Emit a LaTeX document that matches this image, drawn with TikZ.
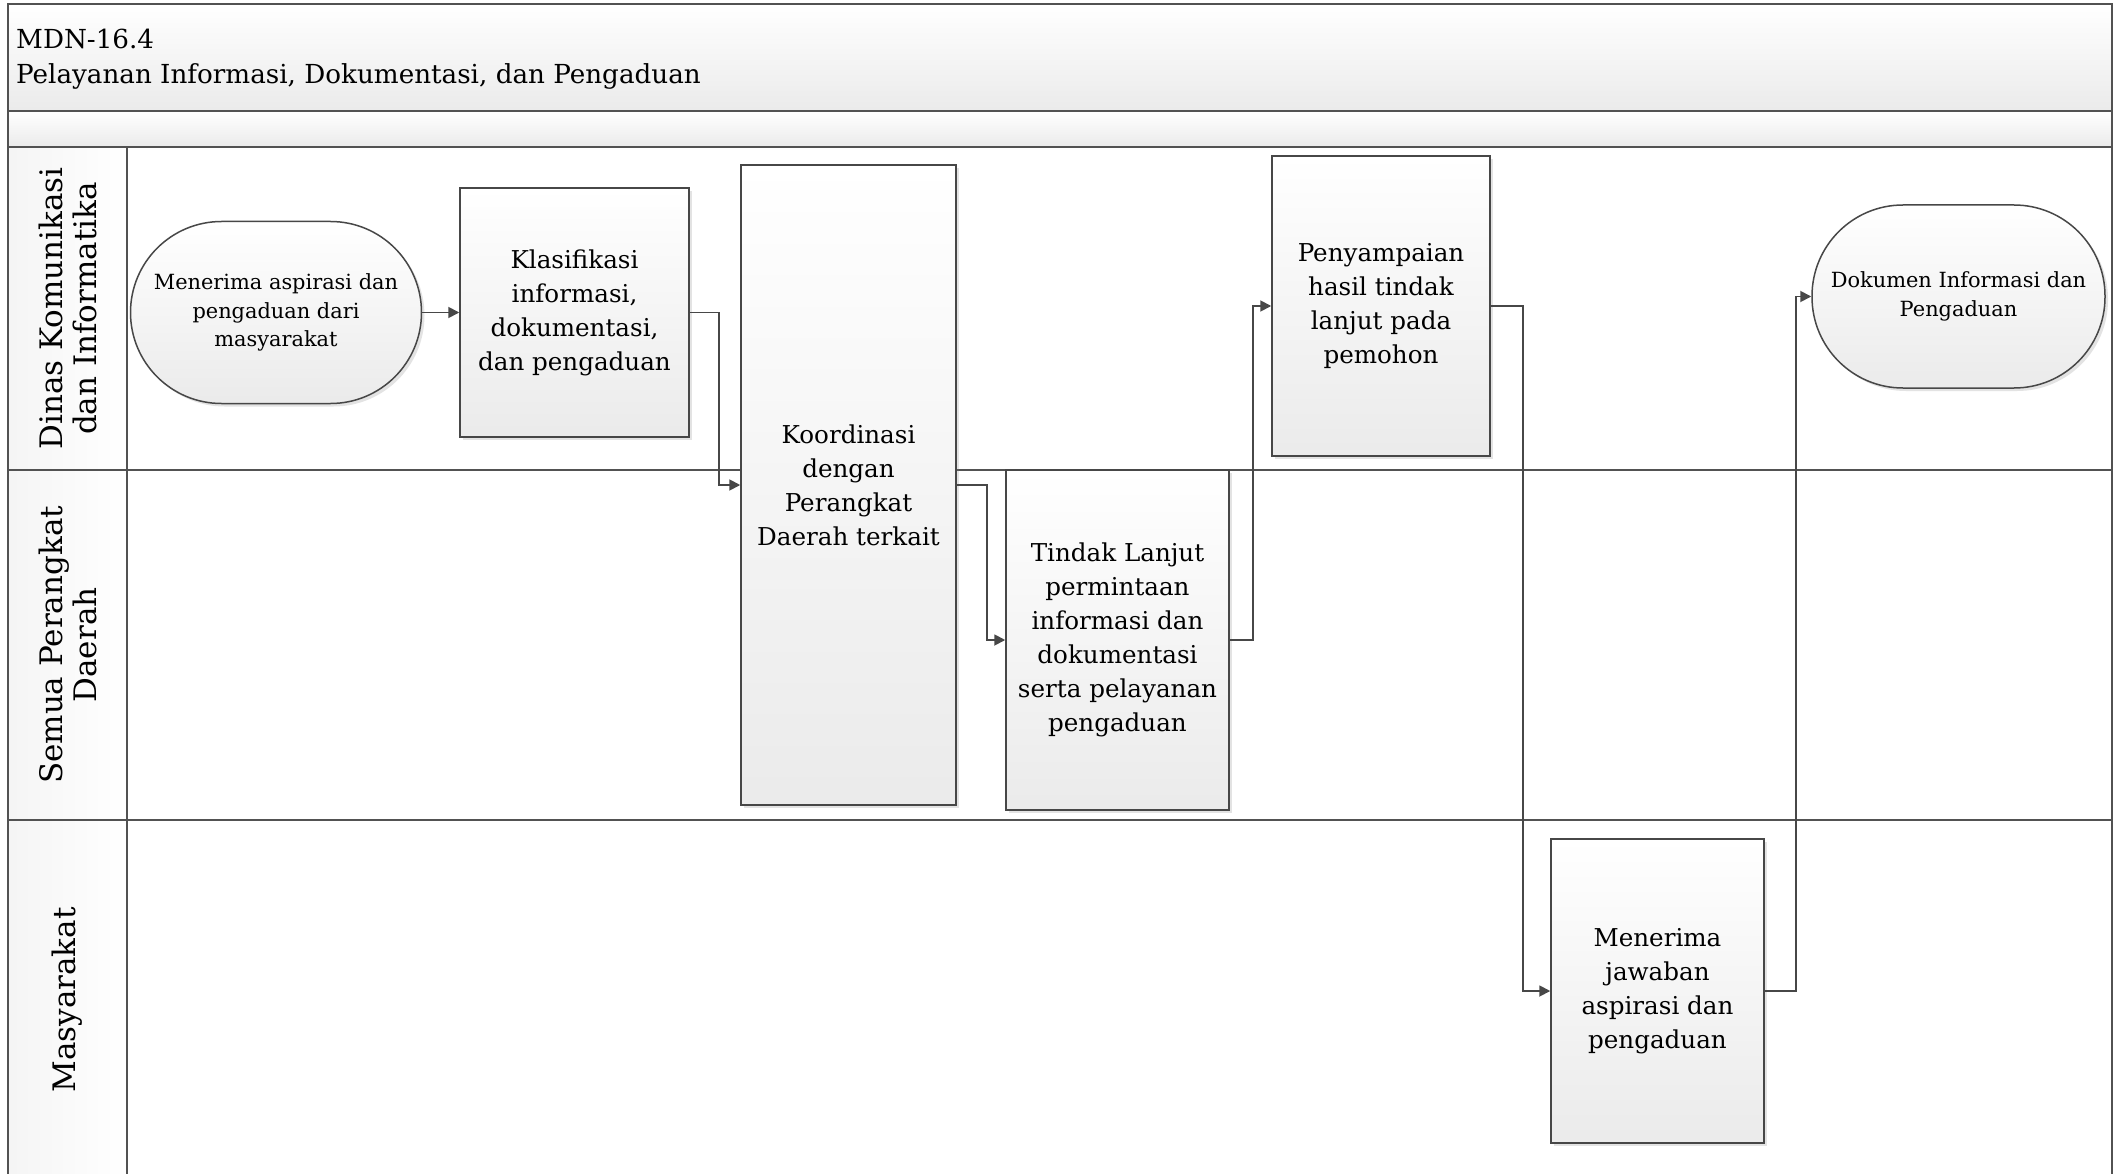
\documentclass[tikz,border=0pt]{standalone}
\usepackage{fontspec}
\setmainfont{DejaVu Serif}
\usetikzlibrary{shadows,arrows.meta,calc}

\begin{document}
\begin{tikzpicture}[x=1pt,y=-1pt,
  frameline/.style={draw=black!68, line width=1.8pt},
  procbox/.style={draw=black!72, line width=1.5pt, top color=white, bottom color=black!8,
    drop shadow={opacity=0.22,shadow xshift=3pt,shadow yshift=-3pt},
    align=center, inner sep=0pt, font=\fontsize{24.6}{34}\selectfont},
  termbox/.style={procbox, rounded corners=91pt, font=\fontsize{20.9}{28.5}\selectfont},
  flow/.style={draw=black!72, line width=1.8pt, -{Triangle[length=11pt,width=11pt]}},
  lanelabel/.style={rotate=90, align=center, font=\fontsize{31}{34}\selectfont},
  titletext/.style={anchor=base west, inner sep=0pt, font=\fontsize{26.2}{35}\selectfont},
]
\useasboundingbox (0,0) rectangle (2122,1174);
\clip (0,0) rectangle (2122,1174);
\fill[white] (0,0) rectangle (2122,1174);

% header bands and lane-label column
\shade[top color=white, bottom color=black!8] (8,4) rectangle (2112,111);
\shade[top color=white, bottom color=black!8] (8,111) rectangle (2112,147);
\shade[left color=black!4, right color=white] (8,147) rectangle (127,1180);

% frame lines
\draw[frameline] (8,4) rectangle (2112,1180);
\draw[frameline] (8,111) -- (2112,111);
\draw[frameline] (8,147) -- (2112,147);
\draw[frameline] (127,147) -- (127,1180);
\draw[frameline] (8,470) -- (2112,470);
\draw[frameline] (8,820) -- (2112,820);

% title
\node[titletext] (t1) at (16,49) {MDN-16.4};
\node[titletext] (t2) at (16,84) {Pelayanan Informasi, Dokumentasi, dan Pengaduan};

% lane labels
\node[lanelabel] (l1) at (67.5,308.5) {Dinas Komunikasi\\dan Informatika};
\node[lanelabel] (l2) at (67.5,645) {Semua Perangkat\\Daerah};
\node[lanelabel] (l3) at (67.5,1000) {Masyarakat};

% process nodes
\node[termbox, minimum width=291pt, minimum height=182pt] (start) at (276,312.5)
  {Menerima aspirasi dan\\pengaduan dari\\masyarakat};
\node[procbox, minimum width=229pt, minimum height=249pt] (klas) at (574.5,312.5)
  {Klasifikasi\\informasi,\\dokumentasi,\\dan pengaduan};
\node[procbox, minimum width=215pt, minimum height=640pt] (koord) at (848.5,485)
  {Koordinasi\\dengan\\Perangkat\\Daerah terkait};
\node[procbox, minimum width=223pt, minimum height=340pt] (tindak) at (1117.5,640)
  {Tindak Lanjut\\permintaan\\informasi dan\\dokumentasi\\serta pelayanan\\pengaduan};
\node[procbox, minimum width=218pt, minimum height=300pt] (peny) at (1381,306)
  {Penyampaian\\hasil tindak\\lanjut pada\\pemohon};
\node[procbox, minimum width=213pt, minimum height=304pt] (jawab) at (1657.5,991)
  {Menerima\\jawaban\\aspirasi dan\\pengaduan};
\node[termbox, minimum width=293pt, minimum height=183pt] (finish) at (1958.5,296.5)
  {Dokumen Informasi dan\\Pengaduan};

% connectors
\draw[flow] (start.east) -- (klas.west);
\draw[flow] (klas.east) -- ++(29,0) |- (koord.west);
\draw[flow] (koord.east) -- ++(30,0) |- (tindak.west);
\draw[flow] (tindak.east) -- ++(23,0) |- (peny.west);
\draw[flow] (peny.east) -- ++(32,0) |- (jawab.west);
\draw[flow] (jawab.east) -- ++(31,0) |- (finish.west);
\end{tikzpicture}
\end{document}
